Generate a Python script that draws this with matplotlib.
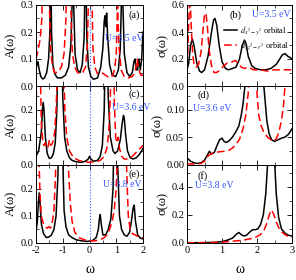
import numpy as np
import matplotlib
matplotlib.use('Agg')
import matplotlib.pyplot as plt
from matplotlib.ticker import MultipleLocator

plt.rcParams['font.family'] = ['Liberation Serif', 'DejaVu Serif']
plt.rcParams['mathtext.fontset'] = 'stix'

# ---- spectral functions A(w), left column ----
a_blk_w = [-2.0, -1.96, -1.93, -1.88, -1.82, -1.75, -1.68, -1.6, -1.53, -1.48, -1.45, -1.42, -1.37, -1.3,
           -1.2, -1.05, -0.9, -0.78, -0.7, -0.65, -0.62, -0.59, -0.54, -0.45, -0.35, -0.27, -0.2, -0.15,
           -0.1, -0.04, 0.05, 0.15, 0.3, 0.42, 0.5, 0.55, 0.58, 0.61, 0.64, 0.68, 0.75, 0.85, 0.98, 1.08,
           1.15, 1.19, 1.22, 1.25, 1.3, 1.4, 1.5, 1.6, 1.66, 1.7, 1.75, 1.8, 1.85, 1.9, 1.95, 2.0]
a_blk_A = [0.06, 0.085, 0.09, 0.06, 0.035, 0.026, 0.03, 0.05, 0.1, 0.2, 0.5, 0.2, 0.08, 0.045,
           0.03, 0.03, 0.04, 0.07, 0.15, 0.3, 0.5, 0.3, 0.12, 0.06, 0.05, 0.08, 0.18, 0.5,
           0.18, 0.07, 0.035, 0.025, 0.03, 0.07, 0.14, 0.24, 0.26, 0.22, 0.27, 0.18, 0.08, 0.04, 0.035, 0.06,
           0.14, 0.3, 0.5, 0.3, 0.12, 0.05, 0.035, 0.05, 0.09, 0.1, 0.06, 0.06, 0.1, 0.06, 0.1, 0.2]
a_red_w = [-2.0, -1.93, -1.85, -1.78, -1.74, -1.7, -1.62, -1.55, -1.5, -1.45, -1.38, -1.3, -1.2, -1.05,
           -0.95, -0.88, -0.82, -0.76, -0.7, -0.64, -0.55, -0.45, -0.35, -0.25, -0.15, -0.08, -0.02, 0.03,
           0.08, 0.13, 0.2, 0.3, 0.45, 0.6, 0.75, 0.88, 0.95, 1.0, 1.05, 1.1, 1.18, 1.3, 1.45, 1.6,
           1.7, 1.78, 1.85, 1.92, 2.0]
a_red_A = [0.1, 0.13, 0.17, 0.25, 0.5, 0.6, 0.5, 0.6, 0.3, 0.13, 0.07, 0.05, 0.05, 0.07,
           0.12, 0.25, 0.6, 0.6, 0.3, 0.12, 0.07, 0.05, 0.045, 0.05, 0.07, 0.15, 0.4, 0.6,
           0.4, 0.14, 0.07, 0.045, 0.05, 0.04, 0.03, 0.04, 0.07, 0.12, 0.3, 0.15, 0.06, 0.035, 0.03, 0.035,
           0.05, 0.1, 0.06, 0.04, 0.04]

c_blk_w = [-2.0, -1.9, -1.8, -1.76, -1.73, -1.7, -1.65, -1.58, -1.5, -1.42, -1.35, -1.28, -1.22, -1.17,
           -1.12, -1.07, -1.0, -0.93, -0.85, -0.75, -0.65, -0.5, -0.3, -0.15, -0.05, 0.0, 0.05, 0.15,
           0.3, 0.4, 0.48, 0.55, 0.6, 0.65, 0.7, 0.78, 0.88, 0.95, 1.05, 1.15, 1.22, 1.27, 1.3, 1.35,
           1.42, 1.52, 1.63, 1.75, 1.85, 1.95, 2.0]
c_blk_A = [0.03, 0.05, 0.12, 0.2, 0.228, 0.2, 0.1, 0.04, 0.022, 0.025, 0.04, 0.08, 0.2, 0.5,
           0.6, 0.5, 0.25, 0.1, 0.05, 0.025, 0.015, 0.01, 0.008, 0.012, 0.02, 0.03, 0.02, 0.012,
           0.015, 0.03, 0.07, 0.2, 0.5, 0.5, 0.25, 0.1, 0.05, 0.04, 0.05, 0.09, 0.15, 0.18, 0.17, 0.11,
           0.05, 0.025, 0.02, 0.025, 0.035, 0.05, 0.06]
c_red_w = [-2.0, -1.95, -1.9, -1.85, -1.8, -1.75, -1.7, -1.65, -1.6, -1.55, -1.5, -1.45, -1.4, -1.35,
           -1.3, -1.25, -1.18, -1.12, -1.05, -0.98, -0.92, -0.85, -0.75, -0.6, -0.4, -0.2, 0.0, 0.2,
           0.4, 0.55, 0.65, 0.72, 0.78, 0.83, 0.88, 0.93, 0.98, 1.02, 1.07, 1.12, 1.2, 1.3, 1.4, 1.5,
           1.6, 1.7, 1.8, 1.9, 2.0]
c_red_A = [0.2, 0.4, 0.6, 0.4, 0.15, 0.09, 0.07, 0.08, 0.06, 0.065, 0.09, 0.07, 0.075, 0.09,
           0.12, 0.2, 0.4, 0.6, 0.6, 0.4, 0.2, 0.1, 0.05, 0.025, 0.015, 0.01, 0.008, 0.01,
           0.015, 0.03, 0.06, 0.12, 0.25, 0.6, 0.6, 0.22, 0.1, 0.08, 0.1, 0.06, 0.03, 0.02, 0.02, 0.025,
           0.03, 0.04, 0.05, 0.06, 0.07]

e_blk_w = [-2.0, -1.95, -1.91, -1.88, -1.85, -1.8, -1.72, -1.62, -1.52, -1.42, -1.33, -1.25, -1.18, -1.12,
           -1.07, -1.02, -0.95, -0.88, -0.78, -0.65, -0.5, -0.3, -0.1, 0.1, 0.25, 0.33, 0.37, 0.4,
           0.44, 0.5, 0.6, 0.7, 0.8, 0.88, 0.94, 1.0, 1.05, 1.12, 1.2, 1.3, 1.4, 1.5, 1.58, 1.63,
           1.67, 1.72, 1.8, 1.9, 2.0]
e_blk_A = [0.04, 0.08, 0.15, 0.185, 0.15, 0.07, 0.035, 0.02, 0.022, 0.03, 0.05, 0.1, 0.25, 0.6,
           0.6, 0.4, 0.12, 0.06, 0.03, 0.02, 0.012, 0.008, 0.006, 0.008, 0.02, 0.05, 0.09, 0.105,
           0.07, 0.03, 0.03, 0.05, 0.09, 0.2, 0.6, 0.6, 0.3, 0.1, 0.05, 0.03, 0.025, 0.04, 0.09, 0.13,
           0.14, 0.08, 0.03, 0.018, 0.015]
e_red_w = [-2.0, -1.95, -1.9, -1.85, -1.8, -1.72, -1.65, -1.58, -1.52, -1.46, -1.4, -1.33, -1.27, -1.2,
           -1.1, -1.0, -0.9, -0.8, -0.72, -0.65, -0.55, -0.4, -0.2, 0.0, 0.2, 0.4, 0.55, 0.65,
           0.75, 0.85, 0.92, 1.0, 1.07, 1.15, 1.25, 1.33, 1.38, 1.45, 1.52, 1.6, 1.7, 1.8, 1.9, 2.0]
e_red_A = [0.6, 0.6, 0.35, 0.18, 0.1, 0.07, 0.06, 0.055, 0.06, 0.055, 0.07, 0.12, 0.25, 0.6,
           0.6, 0.6, 0.6, 0.3, 0.15, 0.08, 0.04, 0.02, 0.012, 0.008, 0.008, 0.012, 0.02, 0.03,
           0.05, 0.08, 0.12, 0.2, 0.4, 0.6, 0.6, 0.6, 0.3, 0.1, 0.05, 0.035, 0.03, 0.025, 0.02, 0.02]

# ---- optical conductivity sigma(w), right column ----
b_blk_w = [0.0, 0.05, 0.1, 0.15, 0.2, 0.28, 0.36, 0.42, 0.5, 0.6, 0.7, 0.76, 0.8, 0.85, 0.92, 1.0,
           1.1, 1.18, 1.3, 1.4, 1.5, 1.58, 1.64, 1.68, 1.75, 1.85, 1.95, 2.1, 2.25, 2.4, 2.55, 2.65,
           2.72, 2.8, 2.88, 2.95, 3.0]
b_blk_s = [0.12, 0.17, 0.3, 0.35, 0.3, 0.17, 0.11, 0.1, 0.12, 0.22, 0.4, 0.49, 0.5, 0.45, 0.3, 0.18,
           0.13, 0.12, 0.13, 0.14, 0.2, 0.3, 0.34, 0.32, 0.22, 0.15, 0.13, 0.12, 0.12, 0.13, 0.16, 0.2,
           0.23, 0.24, 0.22, 0.21, 0.2]
b_red_w = [0.0, 0.03, 0.06, 0.09, 0.12, 0.16, 0.2, 0.26, 0.33, 0.4, 0.46, 0.5, 0.54, 0.58, 0.63, 0.7,
           0.77, 0.85, 0.95, 1.05, 1.15, 1.22, 1.3, 1.38, 1.45, 1.55, 1.65, 1.75, 1.9, 2.1, 2.3, 2.5,
           2.7, 2.85, 3.0]
b_red_s = [0.15, 0.3, 0.55, 0.65, 0.45, 0.25, 0.16, 0.14, 0.16, 0.25, 0.42, 0.53, 0.54, 0.45, 0.27, 0.15,
           0.1, 0.1, 0.12, 0.15, 0.17, 0.17, 0.18, 0.19, 0.17, 0.14, 0.13, 0.14, 0.12, 0.12, 0.11, 0.12,
           0.12, 0.12, 0.12]

d_blk_w = [0.0, 0.1, 0.2, 0.3, 0.4, 0.5, 0.58, 0.64, 0.7, 0.78, 0.86, 0.93, 1.0, 1.06, 1.12, 1.2,
           1.3, 1.4, 1.48, 1.55, 1.6, 1.65, 1.7, 1.8, 1.9, 2.0, 2.1, 2.2, 2.28, 2.35, 2.42, 2.5,
           2.6, 2.7, 2.8, 2.9, 3.0]
d_blk_s = [0.012, 0.006, 0.003, 0.002, 0.003, 0.008, 0.017, 0.024, 0.019, 0.022, 0.035, 0.045, 0.048, 0.042, 0.04, 0.043,
           0.05, 0.06, 0.07, 0.09, 0.11, 0.14, 0.2, 0.3, 0.35, 0.3, 0.2, 0.14, 0.08, 0.055, 0.045, 0.042,
           0.045, 0.048, 0.05, 0.055, 0.065]
d_red_w = [0.0, 0.2, 0.4, 0.5, 0.58, 0.65, 0.75, 0.9, 1.05, 1.2, 1.3, 1.4, 1.5, 1.6, 1.68, 1.75,
           1.8, 1.85, 1.9, 1.95, 2.0, 2.05, 2.12, 2.2, 2.3, 2.4, 2.48, 2.55, 2.62, 2.7, 2.76, 2.82,
           2.9, 3.0]
d_red_s = [0.001, 0.001, 0.002, 0.006, 0.014, 0.018, 0.021, 0.023, 0.024, 0.026, 0.03, 0.036, 0.046, 0.065, 0.09, 0.13,
           0.2, 0.3, 0.35, 0.25, 0.13, 0.09, 0.07, 0.058, 0.05, 0.045, 0.043, 0.047, 0.058, 0.08, 0.11, 0.16,
           0.3, 0.4]

f_blk_w = [0.0, 0.3, 0.6, 0.8, 1.0, 1.15, 1.3, 1.4, 1.48, 1.55, 1.62, 1.7, 1.8, 1.88, 1.95, 2.02,
           2.1, 2.18, 2.25, 2.3, 2.35, 2.42, 2.5, 2.55, 2.62, 2.7, 2.8, 2.9, 3.0]
f_blk_s = [0.002, 0.002, 0.003, 0.005, 0.01, 0.02, 0.035, 0.06, 0.075, 0.06, 0.05, 0.055, 0.08, 0.095, 0.095, 0.1,
           0.13, 0.2, 0.35, 0.55, 0.8, 0.9, 0.6, 0.35, 0.18, 0.1, 0.07, 0.055, 0.05]
f_red_w = [0.0, 0.4, 0.8, 1.0, 1.2, 1.4, 1.6, 1.8, 1.95, 2.1, 2.2, 2.28, 2.35, 2.41, 2.47, 2.55,
           2.62, 2.7, 2.8, 2.9, 3.0]
f_red_s = [0.001, 0.002, 0.004, 0.006, 0.01, 0.015, 0.02, 0.03, 0.04, 0.06, 0.09, 0.14, 0.2, 0.235, 0.21, 0.15,
           0.11, 0.08, 0.06, 0.045, 0.04]

# panel label, U text, curves, y upper limit, label/text positions (axes fraction)
left_panels = [
    ('(a)', 'U=3.5 eV', a_blk_w, a_blk_A, a_red_w, a_red_A, 0.3, (0.975, 0.84), (0.645, 0.56)),
    ('(c)', 'U=3.6 eV', c_blk_w, c_blk_A, c_red_w, c_red_A, 0.288, (0.975, 0.86), (0.71, 0.69)),
    ('(e)', 'U=3.8 eV', e_blk_w, e_blk_A, e_red_w, e_red_A, 0.29, (0.975, 0.85), (0.626, 0.71)),
]
right_panels = [
    ('(b)', 'U=3.5 eV', b_blk_w, b_blk_s, b_red_w, b_red_s, 0.6, 0.2, (0.4, 0.84), (0.62, 0.85)),
    ('(d)', 'U=3.6 eV', d_blk_w, d_blk_s, d_red_w, d_red_s, 0.143, 0.05, (0.1, 0.85), (0.06, 0.68)),
    ('(f)', 'U=3.8 eV', f_blk_w, f_blk_s, f_red_w, f_red_s, 0.56, 0.2, (0.1, 0.82), (0.075, 0.7)),
]

fig = plt.figure(figsize=(2.96, 2.80), dpi=100)
W, H = 296.0, 280.0
tops = [5, 86, 164.5]
bots = [86, 164.5, 243]

blue = '#3355ff'


def style(ax):
    ax.tick_params(direction='in', which='both', top=True, right=True, labelsize=7.5, pad=2)
    ax.tick_params(which='major', length=3.5, width=0.6)
    ax.tick_params(which='minor', length=2, width=0.5)
    for s in ax.spines.values():
        s.set_linewidth(0.7)


for i, (lab, utxt, bw, ba, rw, ra, ytop, lpos, upos) in enumerate(left_panels):
    ax = fig.add_axes([36 / W, 1 - bots[i] / H, 107 / W, (bots[i] - tops[i]) / H])
    ax.axvline(0, color=blue, ls=':', lw=0.8)
    ax.plot(bw, ba, color='black', lw=1.1)
    ax.plot(rw, ra, color='red', lw=1.1, ls=(0, (5, 2.5)))
    ax.set_xlim(-2, 2)
    ax.set_ylim(0, ytop)
    ax.xaxis.set_major_locator(MultipleLocator(1))
    ax.xaxis.set_minor_locator(MultipleLocator(0.5))
    ax.yaxis.set_major_locator(MultipleLocator(0.1))
    ax.yaxis.set_minor_locator(MultipleLocator(0.05))
    ax.set_yticks([0.0, 0.1, 0.2, 0.3] if i == 0 else [0.0, 0.1, 0.2])
    ax.set_yticklabels(['0.0', '0.1', '0.2', '0.3'] if i == 0 else ['0.0', '0.1', '0.2'])
    style(ax)
    if i < 2:
        ax.set_xticklabels([])
    else:
        ax.set_xticks([-2, -1, 0, 1, 2])
        ax.set_xticklabels(['-2', '-1', '0', '1', '2'])
        ax.set_xlabel('ω', fontsize=10, labelpad=6)
    ax.set_ylabel('A(ω)', fontsize=9, labelpad=2)
    ax.text(lpos[0], lpos[1], lab, transform=ax.transAxes, ha='right', fontsize=7.5)
    ax.text(upos[0], upos[1], utxt, transform=ax.transAxes, ha='left', fontsize=7, color=blue,
            clip_on=False)

for i, (lab, utxt, bw, bs, rw, rs, ytop, ystep, lpos, upos) in enumerate(right_panels):
    ax = fig.add_axes([187 / W, 1 - bots[i] / H, 105 / W, (bots[i] - tops[i]) / H])
    l1, = ax.plot(bw, bs, color='black', lw=1.1)
    l2, = ax.plot(rw, rs, color='red', lw=1.1, ls=(0, (5, 2.5)))
    ax.set_xlim(0, 3)
    ax.set_ylim(0, ytop)
    ax.xaxis.set_major_locator(MultipleLocator(1))
    ax.xaxis.set_minor_locator(MultipleLocator(0.5))
    ax.yaxis.set_major_locator(MultipleLocator(ystep))
    ax.yaxis.set_minor_locator(MultipleLocator(ystep / 2))
    if i == 1:
        ax.set_yticks([0.0, 0.05, 0.10])
        ax.set_yticklabels(['0.00', '0.05', '0.10'])
    elif i == 0:
        ax.set_yticks([0.0, 0.2, 0.4, 0.6])
        ax.set_yticklabels(['0.0', '0.2', '0.4', '0.6'])
    else:
        ax.set_yticks([0.0, 0.2, 0.4])
        ax.set_yticklabels(['0.0', '0.2', '0.4'])
    style(ax)
    if i < 2:
        ax.set_xticklabels([])
    else:
        ax.set_xticks([0, 1, 2, 3])
        ax.set_xticklabels(['0', '1', '2', '3'])
        ax.set_xlabel('ω', fontsize=10, labelpad=6)
    ax.set_ylabel('σ(ω)', fontsize=9, labelpad=2)
    ax.text(lpos[0], lpos[1], lab, transform=ax.transAxes, ha='left', fontsize=7.5)
    ax.text(upos[0], upos[1], utxt, transform=ax.transAxes, ha='left', fontsize=7, color=blue)
    if i == 0:
        ax.legend([l1, l2], [r'$d_{x^2-y^2}$ orbital', r'$d_{3z^2-r^2}$ orbital'],
                  loc='upper right', bbox_to_anchor=(1.03, 0.83), fontsize=6, frameon=False,
                  handlelength=1.6, handletextpad=0.4, labelspacing=0.25, borderpad=0.2)

fig.savefig('out.png', dpi=100)
